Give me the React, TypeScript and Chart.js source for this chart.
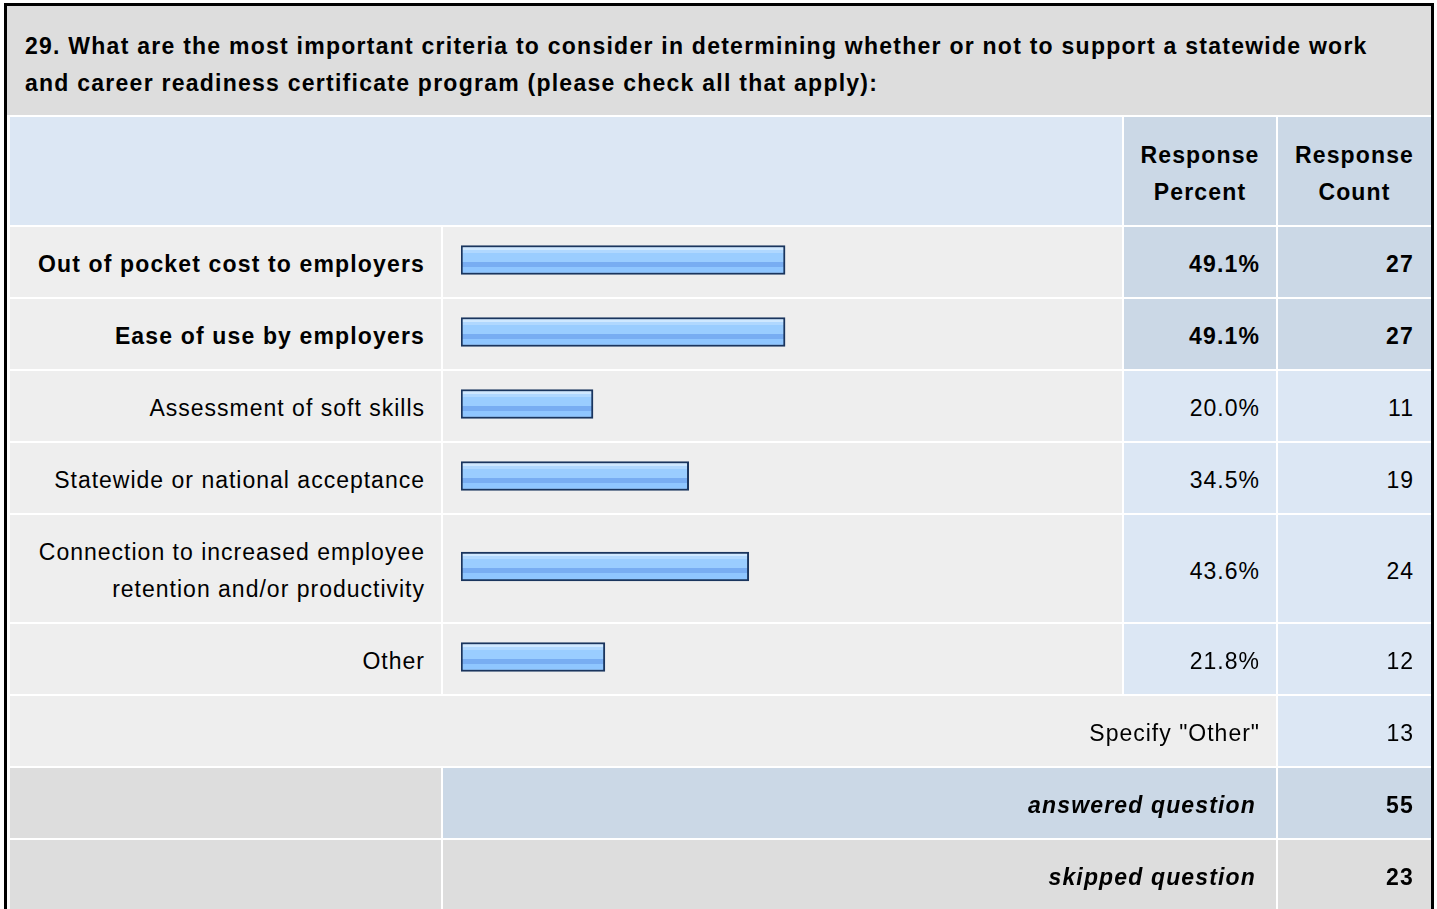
import React, { useEffect, useRef } from "react";
import { Chart, registerables } from "chart.js";

Chart.register(...registerables);

const questionTitle =
  "29. What are the most important criteria to consider in determining whether or not to support a statewide work\nand career readiness certificate program (please check all that apply):";
const headerPercent = "Response\nPercent";
const headerCount = "Response\nCount";
const categories = [
  "Out of pocket cost to employers",
  "Ease of use by employers",
  "Assessment of soft skills",
  "Statewide or national acceptance",
  "Connection to increased employee\nretention and/or productivity",
  "Other",
];
const percents = [49.1, 49.1, 20.0, 34.5, 43.6, 21.8];
const counts = [27, 27, 11, 19, 24, 12];
const specifyLabel = 'Specify "Other"';
const specifyCount = 13;
const answeredLabel = "answered question";
const answeredCount = 55;
const skippedLabel = "skipped question";
const skippedCount = 23;

const FONT = '"Liberation Sans", Arial, Helvetica, sans-serif';
const LIGHT_BLUE = "#dce7f4";
const DARK_BLUE = "#cbd8e6";
const LIGHT_GRAY = "#eeeeee";
const GRAY = "#dddddd";
const BAR_BORDER = "#1a355e";

const regular: React.CSSProperties = { fontWeight: 400, letterSpacing: "1px" };
const bold: React.CSSProperties = { fontWeight: 700, letterSpacing: "1.15px" };

function BarCell({ label, value, height }: { label: string; value: number; height: number }) {
  const ref = useRef<HTMLCanvasElement | null>(null);
  useEffect(() => {
    if (!ref.current) return;
    const chart = new Chart(ref.current, {
      type: "bar",
      data: {
        labels: [label.replace("\n", " ")],
        datasets: [
          {
            data: [value],
            backgroundColor: (ctx: any) => {
              const area = ctx.chart.chartArea;
              if (!area) return "#99ccff";
              const cy = (area.top + area.bottom) / 2;
              const top = cy - 14.5;
              const g = ctx.chart.ctx.createLinearGradient(0, top, 0, top + 29);
              const s = (px: number) => Math.min(1, Math.max(0, px / 29));
              g.addColorStop(s(0), "#cfe8ff");
              g.addColorStop(s(4), "#cfe8ff");
              g.addColorStop(s(4.01), "#b0d8ff");
              g.addColorStop(s(7), "#b0d8ff");
              g.addColorStop(s(7.01), "#9acdff");
              g.addColorStop(s(16), "#9acdff");
              g.addColorStop(s(16.01), "#78adf2");
              g.addColorStop(s(21), "#78adf2");
              g.addColorStop(s(21.01), "#8fc6ff");
              g.addColorStop(s(29), "#8fc6ff");
              return g;
            },
            borderColor: BAR_BORDER,
            borderWidth: 2,
            borderSkipped: false,
            barThickness: 29,
          } as any,
        ],
      },
      options: {
        indexAxis: "y",
        animation: false,
        responsive: false,
        events: [],
        layout: { padding: { left: 18, right: 1, top: 0, bottom: 4 } },
        plugins: { legend: { display: false }, tooltip: { enabled: false } },
        scales: {
          x: { display: false, min: 0, max: 100 },
          y: { display: false },
        },
      },
    });
    return () => chart.destroy();
  }, [label, value, height]);
  return <canvas ref={ref} width={679} height={height} style={{ display: "block" }} />;
}

const cell = (bg: string, extra: React.CSSProperties = {}): React.CSSProperties => ({
  background: bg,
  display: "flex",
  alignItems: "center",
  boxSizing: "border-box",
  paddingTop: 5,
  lineHeight: "37px",
  whiteSpace: "pre-line",
  ...extra,
});

export default function App() {
  const maxPct = Math.max(...percents);
  const rowHeights = categories.map((c) => (c.includes("\n") ? 107 : 70));
  const gridRows = ["108px", ...rowHeights.map((h) => h + "px"), "70px", "70px", "70px"].join(" ");

  return (
    <div
      style={{
        position: "fixed",
        inset: 0,
        background: "#fff",
        overflow: "hidden",
        fontFamily: FONT,
        fontSize: 23,
        color: "#000",
      }}
    >
      <div
        style={{
          position: "absolute",
          left: 4,
          top: 3,
          width: 1424,
          height: 1000,
          border: "3px solid #000",
          background: "#fff",
        }}
      >
        <div
          style={{
            background: GRAY,
            height: 109,
            boxSizing: "border-box",
            paddingTop: 22,
            paddingLeft: 18,
            lineHeight: "37px",
            whiteSpace: "pre-line",
            fontWeight: 700,
            letterSpacing: "1.25px",
          }}
        >
          {questionTitle}
        </div>
        <div
          style={{
            marginTop: 2,
            marginLeft: 3,
            display: "grid",
            gridTemplateColumns: "431px 679px 152px 153px",
            gridTemplateRows: gridRows,
            columnGap: 2,
            rowGap: 2,
          }}
        >
          <div style={cell(LIGHT_BLUE, { gridColumn: "1 / span 2" })} />
          <div style={cell(DARK_BLUE, { justifyContent: "center", textAlign: "center", ...bold })}>
            {headerPercent}
          </div>
          <div style={cell(DARK_BLUE, { justifyContent: "center", textAlign: "center", ...bold })}>
            {headerCount}
          </div>

          {categories.map((c, i) => {
            const isTop = percents[i] === maxPct;
            const st = isTop ? bold : regular;
            const bg = isTop ? DARK_BLUE : LIGHT_BLUE;
            return (
              <React.Fragment key={c}>
                <div
                  style={cell(LIGHT_GRAY, {
                    justifyContent: "flex-end",
                    textAlign: "right",
                    paddingRight: 16,
                    ...st,
                  })}
                >
                  {c}
                </div>
                <div style={{ background: LIGHT_GRAY }}>
                  <BarCell label={c} value={percents[i]} height={rowHeights[i]} />
                </div>
                <div style={cell(bg, { justifyContent: "flex-end", paddingRight: 16, ...st })}>
                  {percents[i].toFixed(1) + "%"}
                </div>
                <div style={cell(bg, { justifyContent: "flex-end", paddingRight: 17, ...st })}>
                  {counts[i]}
                </div>
              </React.Fragment>
            );
          })}

          <div
            style={cell(LIGHT_GRAY, {
              gridColumn: "1 / span 3",
              justifyContent: "flex-end",
              paddingRight: 16,
              ...regular,
            })}
          >
            {specifyLabel}
          </div>
          <div style={cell(LIGHT_BLUE, { justifyContent: "flex-end", paddingRight: 17, ...regular })}>
            {specifyCount}
          </div>

          <div style={cell(GRAY)} />
          <div
            style={cell(DARK_BLUE, {
              gridColumn: "2 / span 2",
              justifyContent: "flex-end",
              paddingRight: 20,
              fontStyle: "italic",
              ...bold,
            })}
          >
            {answeredLabel}
          </div>
          <div style={cell(DARK_BLUE, { justifyContent: "flex-end", paddingRight: 17, ...bold })}>
            {answeredCount}
          </div>

          <div style={cell(GRAY)} />
          <div
            style={cell(GRAY, {
              gridColumn: "2 / span 2",
              justifyContent: "flex-end",
              paddingRight: 20,
              fontStyle: "italic",
              ...bold,
            })}
          >
            {skippedLabel}
          </div>
          <div style={cell(GRAY, { justifyContent: "flex-end", paddingRight: 17, ...bold })}>
            {skippedCount}
          </div>
        </div>
      </div>
    </div>
  );
}
